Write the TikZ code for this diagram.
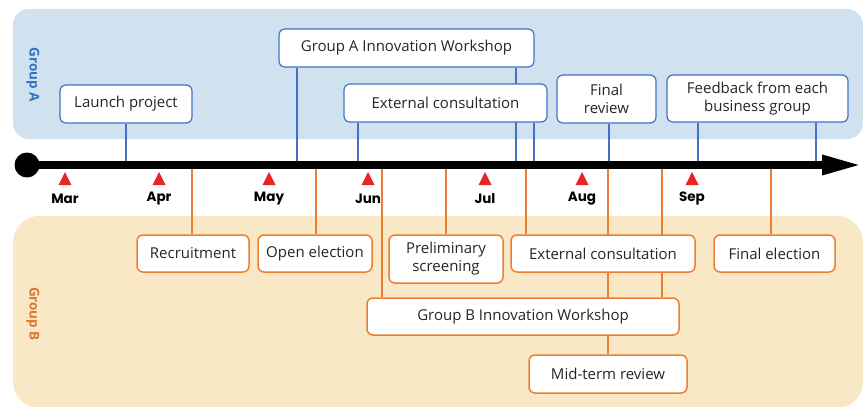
\documentclass[tikz,border=0pt]{standalone}
\usepackage{fontspec}
\setmainfont{Open Sans}
\newfontfamily\monthfont{Poppins}
\usetikzlibrary{arrows.meta}
\pgfdeclarelayer{bands}
\pgfdeclarelayer{links}
\pgfsetlayers{bands,links,main}
\definecolor{bandA}{RGB}{208,225,240}
\definecolor{bandB}{RGB}{249,232,197}
\definecolor{lineA}{RGB}{68,114,196}
\definecolor{lineB}{RGB}{237,125,49}
\definecolor{labA}{RGB}{46,117,190}
\definecolor{labB}{RGB}{222,118,52}
\definecolor{redmk}{RGB}{232,36,36}
\definecolor{textc}{RGB}{38,38,38}
\newcommand\monthmark[3]{%
  \fill[redmk] (#1,172) -- (#1+6.5,185) -- (#1-6.5,185) -- cycle;
  \node[month] (#2) at (#1,198.5) {#3};}
\begin{document}
\begin{tikzpicture}[x=1pt,y=-1pt,
  evbox/.style={fill=white, rounded corners=6pt, align=center, inner sep=0pt,
    font=\fontsize{15}{18}\selectfont, text=textc},
  boxA/.style={evbox, draw=lineA, line width=1.2pt},
  boxB/.style={evbox, draw=lineB, line width=1.5pt},
  linkA/.style={draw=lineA, line width=1.3pt},
  linkB/.style={draw=lineB, line width=2pt},
  month/.style={font=\monthfont\bfseries\fontsize{13.5}{16}\selectfont, text=black},
  grouplab/.style={rotate=-90, font=\bfseries\fontsize{13.5}{16}\selectfont}]
\useasboundingbox (0,0) rectangle (863,407);

% group bands
\begin{pgfonlayer}{bands}
\fill[bandA, rounded corners=16pt] (13,9) rectangle (863,139);
\fill[bandB, rounded corners=26pt] (13,216) rectangle (863,408);
\end{pgfonlayer}
\node[grouplab, text=labA] (gA) at (33,75) {Group A};
\node[grouplab, text=labB] (gB) at (33,314) {Group B};

% Group A events
\node[boxA, minimum width=132pt, minimum height=38pt] (launch) at (126,104) {Launch project};
\node[boxA, minimum width=255pt, minimum height=38pt] (wsA) at (406.5,48) {Group A Innovation Workshop};
\node[boxA, minimum width=203pt, minimum height=38pt] (extA) at (445.5,103) {External consultation};
\node[boxA, minimum width=99pt, minimum height=48pt] (frev) at (606.5,99) {Final\\review};
\node[boxA, minimum width=181pt, minimum height=47pt] (feed) at (757.5,98.5) {Feedback from each\\business group};

% Group B events
\node[boxB, minimum width=112pt, minimum height=37pt] (recr) at (193,253.5) {Recruitment};
\node[boxB, minimum width=114pt, minimum height=37pt] (open) at (315,253.5) {Open election};
\node[boxB, minimum width=114pt, minimum height=48pt] (prel) at (446,259) {Preliminary\\screening};
\node[boxB, minimum width=184pt, minimum height=37pt] (extB) at (603,253.5) {External consultation};
\node[boxB, minimum width=121pt, minimum height=37pt] (fel) at (774.5,253.5) {Final election};
\node[boxB, minimum width=312pt, minimum height=37pt] (wsB) at (523,316.5) {Group B Innovation Workshop};
\node[boxB, minimum width=158pt, minimum height=38pt] (mid) at (608,374) {Mid-term review};

% time axis
\node[circle, fill=black, minimum size=25pt, inner sep=0pt] (start) at (27,165) {};
\coordinate (tip) at (863,165);
\draw[line width=8.5pt, -{Triangle[length=41pt,width=18pt]}] (start.center) -- (tip);

% points on the time axis
\coordinate (a1) at (126,165);
\coordinate (a2) at (297,165);
\coordinate (a3) at (358,165);
\coordinate (a4) at (516,165);
\coordinate (a5) at (534,165);
\coordinate (a6) at (609,165);
\coordinate (a7) at (698,165);
\coordinate (a8) at (816,165);
\coordinate (b1) at (192,165);
\coordinate (b2) at (316,165);
\coordinate (b3) at (382,165);
\coordinate (b4) at (446,165);
\coordinate (b5) at (526,165);
\coordinate (b6) at (608,165);
\coordinate (b7) at (662,165);
\coordinate (b8) at (771,165);

% connectors, kept behind the boxes
\begin{pgfonlayer}{links}
\draw[linkA] (a1) -- (a1 |- launch.south);
\draw[linkA] (a2) -- (a2 |- wsA.south);
\draw[linkA] (a3) -- (a3 |- extA.south);
\draw[linkA] (a4) -- (a4 |- wsA.south);
\draw[linkA] (a5) -- (a5 |- extA.south);
\draw[linkA] (a6) -- (a6 |- frev.south);
\draw[linkA] (a7) -- (a7 |- feed.south);
\draw[linkA] (a8) -- (a8 |- feed.south);
\draw[linkB] (b1) -- (b1 |- recr.north);
\draw[linkB] (b2) -- (b2 |- open.north);
\draw[linkB] (b3) -- (b3 |- wsB.north);
\draw[linkB] (b4) -- (b4 |- prel.north);
\draw[linkB] (b5) -- (b5 |- extB.north);
\draw[linkB] (b6) -- (b6 |- mid.north);
\draw[linkB] (b7) -- (b7 |- wsB.north);
\draw[linkB] (b8) -- (b8 |- fel.north);
\end{pgfonlayer}

% months
\monthmark{65}{mMar}{Mar}
\monthmark{159}{mApr}{Apr}
\monthmark{269}{mMay}{May}
\monthmark{368}{mJun}{Jun}
\monthmark{485}{mJul}{Jul}
\monthmark{582}{mAug}{Aug}
\monthmark{692}{mSep}{Sep}
\end{tikzpicture}
\end{document}
